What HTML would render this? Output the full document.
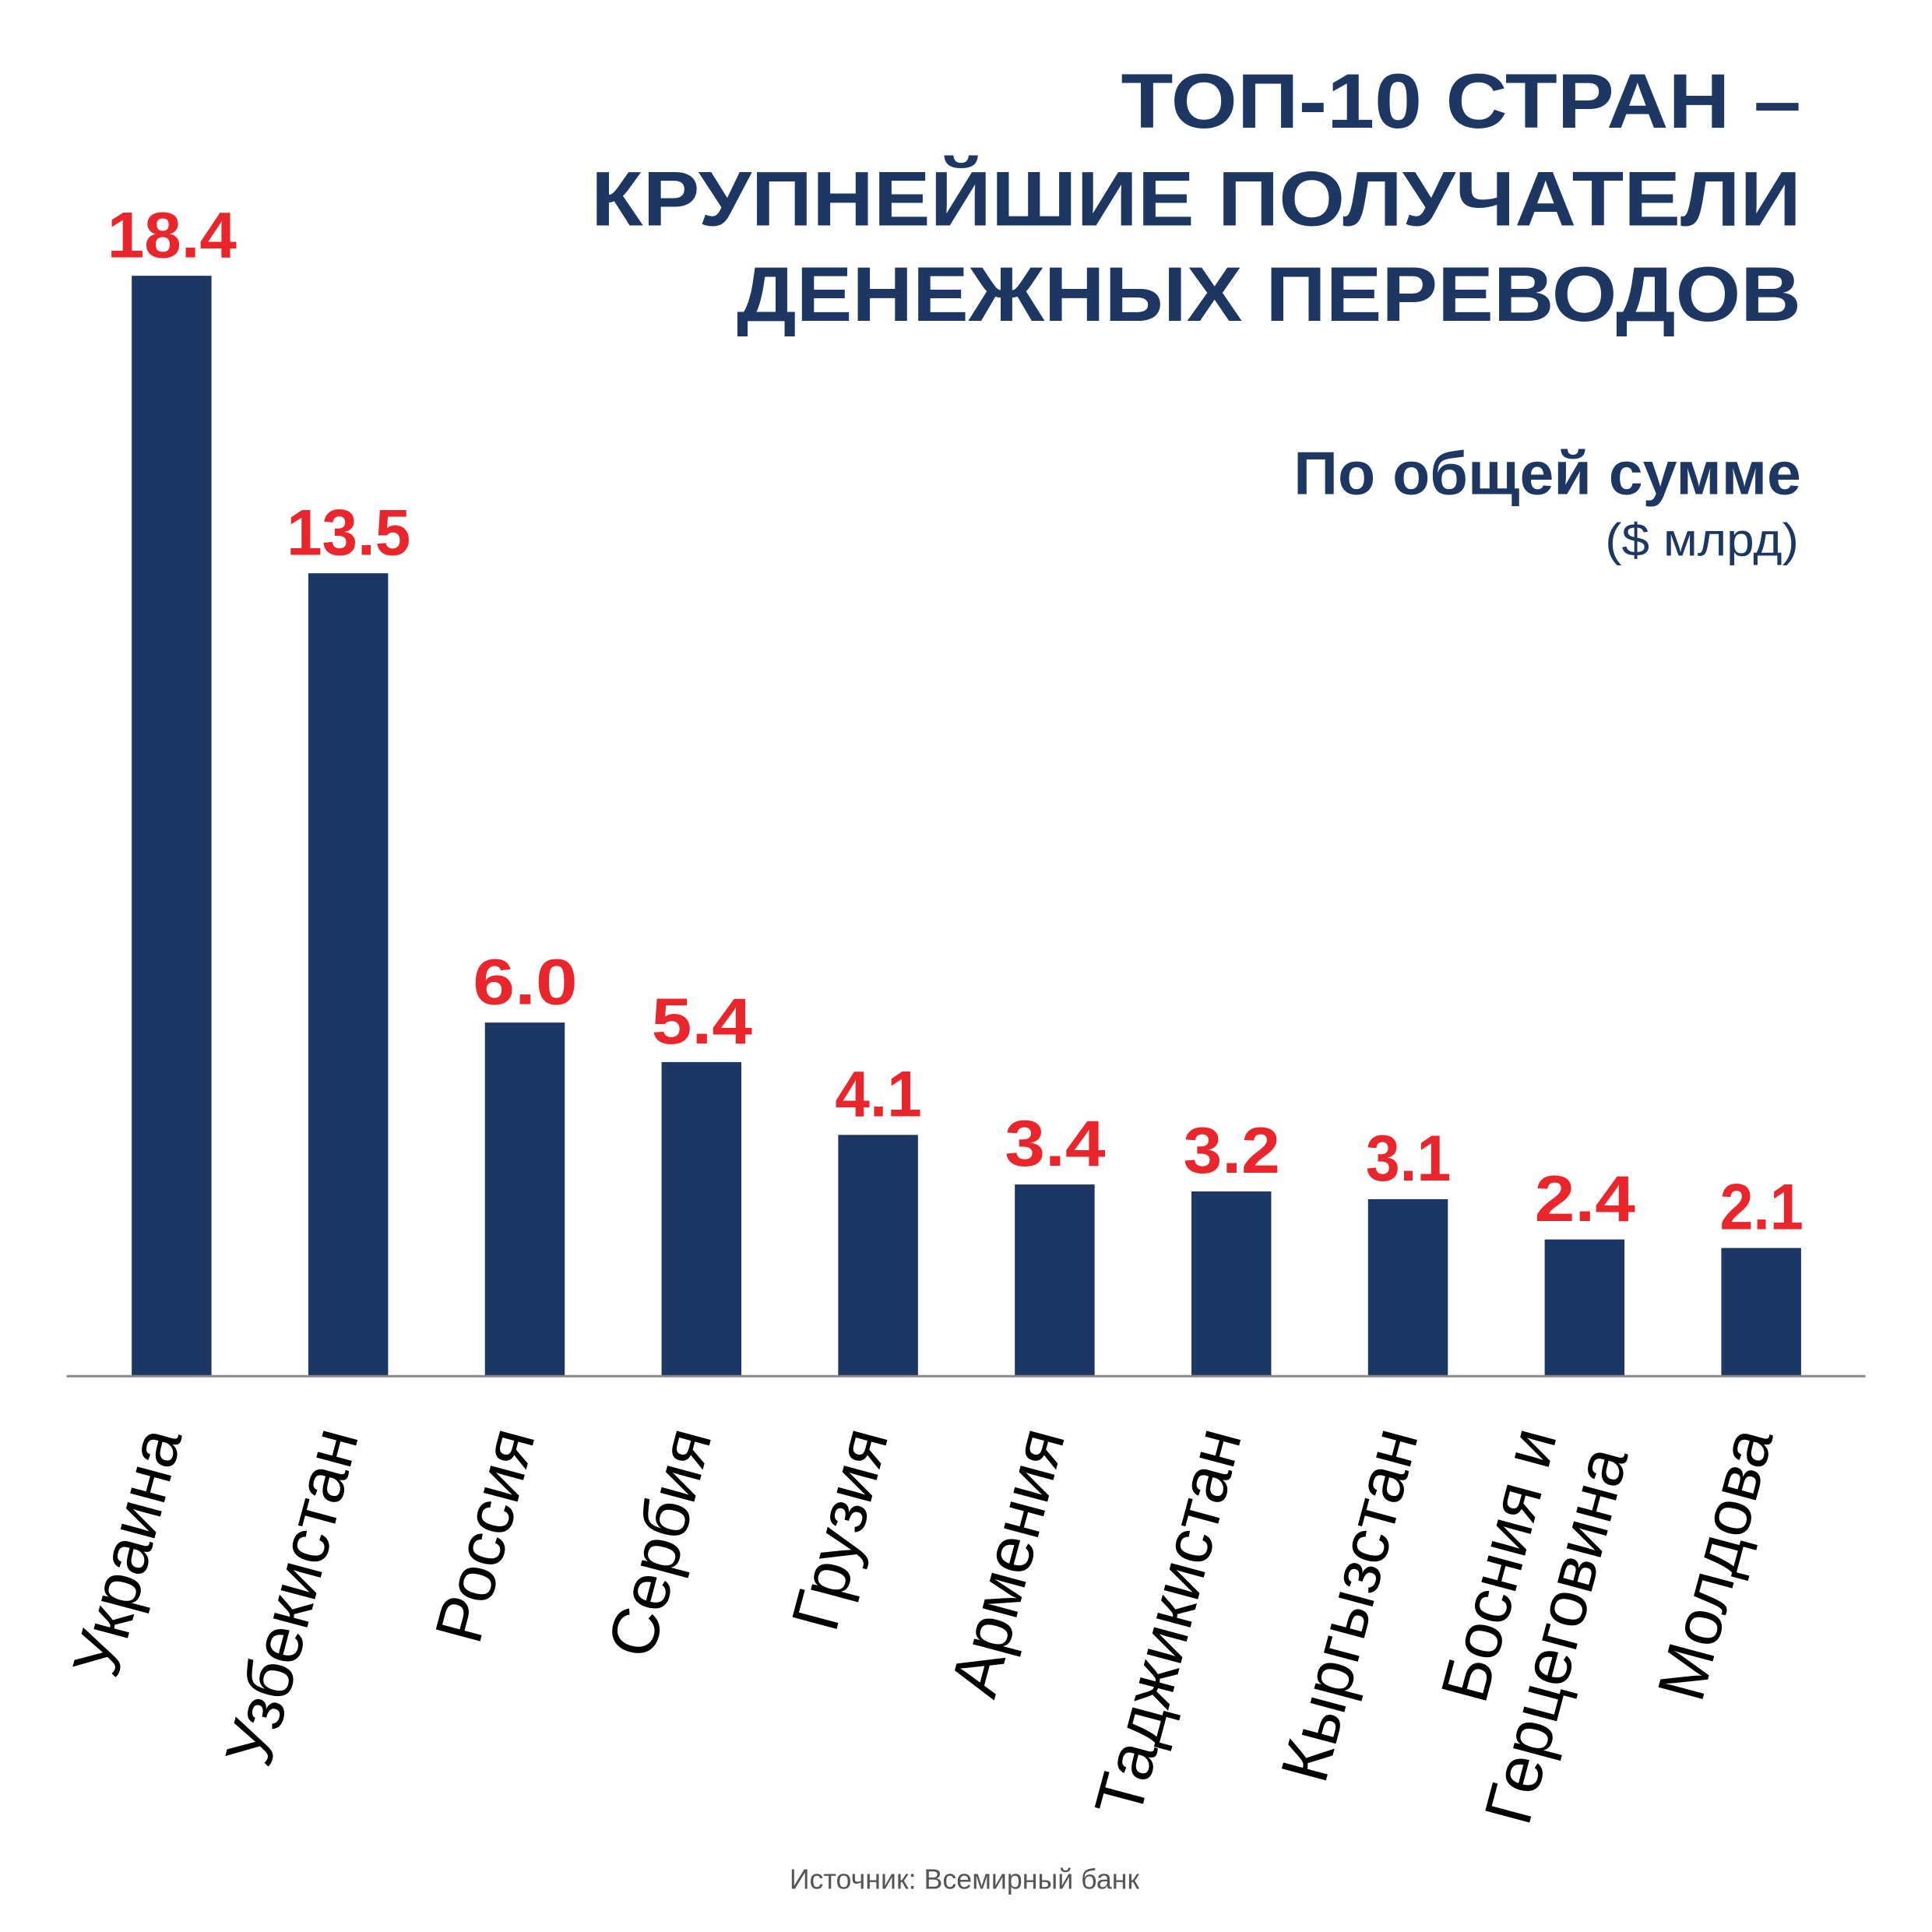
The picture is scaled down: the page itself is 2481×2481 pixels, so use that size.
<!DOCTYPE html>
<html><head><meta charset="utf-8"><style>html,body{margin:0;padding:0;background:#fff}svg{display:block}</style></head>
<body>
<svg width="2481" height="2481" viewBox="0 0 2481 2481" xmlns="http://www.w3.org/2000/svg">
<rect width="2481" height="2481" fill="#fff"/>
<g transform="scale(0.9948)">
<g font-family="Liberation Sans, sans-serif" font-weight="bold" fill="#1d3762" text-anchor="end">
<text x="2325" y="165" font-size="100" textLength="878" lengthAdjust="spacingAndGlyphs">ТОП-10 СТРАН –</text>
<text x="2325" y="291" font-size="100" textLength="1562" lengthAdjust="spacingAndGlyphs">КРУПНЕЙШИЕ ПОЛУЧАТЕЛИ</text>
<text x="2325" y="414" font-size="100" textLength="1374" lengthAdjust="spacingAndGlyphs">ДЕНЕЖНЫХ ПЕРЕВОДОВ</text>
<text x="2325" y="638" font-size="78" textLength="655" lengthAdjust="spacingAndGlyphs">По общей сумме</text>
<text x="2322" y="717" font-size="60" font-weight="normal" textLength="250" lengthAdjust="spacingAndGlyphs">($ млрд)</text>
</g>
<g fill="#1c3764">
<rect x="170" y="356" width="103" height="1420"/>
<rect x="398" y="740" width="103" height="1036"/>
<rect x="626" y="1320" width="103" height="456"/>
<rect x="854" y="1371" width="103" height="405"/>
<rect x="1082" y="1465" width="103" height="311"/>
<rect x="1310" y="1529" width="103" height="247"/>
<rect x="1538" y="1538" width="103" height="238"/>
<rect x="1766" y="1548" width="103" height="228"/>
<rect x="1994" y="1600" width="103" height="176"/>
<rect x="2222" y="1611" width="103" height="165"/>
</g>
<rect x="86" y="1775" width="2322" height="3" fill="#888"/>
<g font-family="Liberation Sans, sans-serif" font-weight="bold" fill="#e8262b" font-size="84" text-anchor="middle">
<text x="222" y="332" textLength="167" lengthAdjust="spacingAndGlyphs">18.4</text>
<text x="450" y="716" textLength="160" lengthAdjust="spacingAndGlyphs">13.5</text>
<text x="678" y="1296" textLength="135" lengthAdjust="spacingAndGlyphs">6.0</text>
<text x="906" y="1347" textLength="130" lengthAdjust="spacingAndGlyphs">5.4</text>
<text x="1134" y="1441" textLength="112" lengthAdjust="spacingAndGlyphs">4.1</text>
<text x="1362" y="1505" textLength="130" lengthAdjust="spacingAndGlyphs">3.4</text>
<text x="1590" y="1514" textLength="125" lengthAdjust="spacingAndGlyphs">3.2</text>
<text x="1818" y="1524" textLength="110" lengthAdjust="spacingAndGlyphs">3.1</text>
<text x="2046" y="1576" textLength="130" lengthAdjust="spacingAndGlyphs">2.4</text>
<text x="2274" y="1587" textLength="108" lengthAdjust="spacingAndGlyphs">2.1</text>
</g>
<g font-family="Liberation Sans, sans-serif" fill="#000" font-size="86" text-anchor="end">
<text transform="translate(235,1853) rotate(-75)">Украина</text>
<text transform="translate(463,1853) rotate(-75)">Узбекистан</text>
<text transform="translate(691,1853) rotate(-75)">Россия</text>
<text transform="translate(919,1853) rotate(-75)">Сербия</text>
<text transform="translate(1147,1853) rotate(-75)">Грузия</text>
<text transform="translate(1375,1853) rotate(-75)">Армения</text>
<text transform="translate(1603,1853) rotate(-75)">Таджикистан</text>
<text transform="translate(1831,1853) rotate(-75)">Кыргызстан</text>
<g transform="translate(2010,1853) rotate(-75)"><text x="0" y="0">Босния и</text><text x="0" y="95">Герцеговина</text></g>
<text transform="translate(2289,1853) rotate(-75)">Молдова</text>
</g>
<text x="1245" y="2438" font-family="Liberation Sans, sans-serif" font-size="36" fill="#555" text-anchor="middle">Источник: Всемирный банк</text>
</g>
</svg>
</body></html>
